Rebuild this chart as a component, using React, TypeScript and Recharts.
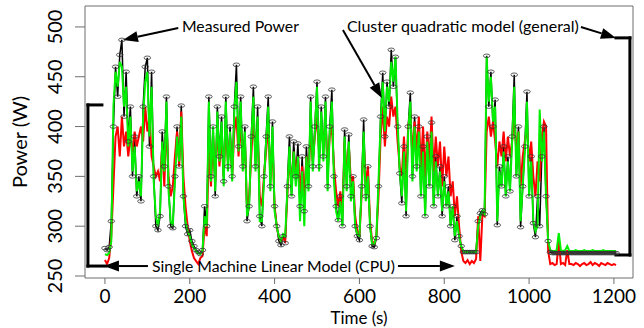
import React from "react";
import { ComposedChart, Line, XAxis, YAxis, ReferenceLine, ReferenceDot, ReferenceArea } from "recharts";

// one sample every 5 s, t = 0 .. 1205
const STEP = 5;

const measured = [
  278, 276, 279, 305, 400, 460, 430, 472, 487, 410, 455, 385, 420, 350, 390, 330, 350, 325, 420, 460,
  469, 380, 455, 350, 300, 296, 310, 395, 360, 430, 340, 300, 298, 350, 400, 360, 421, 330, 300, 292,
  296, 285, 280, 276, 274, 272, 276, 320, 300, 430, 350, 400, 330, 420, 370, 410, 345, 430, 360, 400,
  350, 420, 462, 380, 430, 360, 400, 305, 320, 390, 440, 360, 420, 310, 300, 350, 390, 430, 340, 405,
  320, 300, 285, 281, 290, 283, 340, 390, 330, 385, 350, 383, 320, 370, 315, 380, 340, 430, 360, 400,
  445, 360, 420, 370, 430, 340, 400, 437, 350, 320, 306, 330, 300, 397, 340, 392, 330, 350, 300, 290,
  286, 340, 407, 330, 360, 300, 280, 279, 288, 340, 410, 454, 390, 445, 420, 477, 440, 470, 400, 353,
  323, 380, 310, 400, 434, 350, 410, 360, 400, 330, 380, 310, 390, 340, 404, 320, 370, 330, 360, 310,
  350, 320, 340, 300, 320, 286, 310, 290, 280, 274, 274, 274, 274, 274, 274, 274, 305, 313, 316, 312,
  471, 420, 455, 400, 427, 301, 360, 340, 380, 330, 370, 335, 390, 452, 350, 400, 299, 340, 380, 435,
  330, 370, 303, 289, 330, 300, 370, 400, 330, 285, 274, 273, 273, 273, 273, 273, 273, 273, 273, 273,
  273, 273, 273, 273, 273, 273, 273, 273, 273, 273, 273, 273, 273, 273, 273, 273, 273, 273, 273, 273,
  273, 273,
];

const singleLinear = [
  266, 262, 268, 290, 340, 390, 400, 370, 410, 380, 395, 370, 390, 375, 395, 380, 390, 400, 385, 420,
  395, 410, 370, 360, 350, 355, 345, 380, 340, 405, 350, 330, 340, 370, 395, 360, 415, 350, 320, 300,
  285, 275, 268, 265, 262, 268, 270, 300, 290, 380, 340, 390, 345, 400, 360, 390, 350, 400, 365, 390,
  350, 395, 410, 370, 405, 360, 385, 320, 330, 370, 410, 370, 395, 330, 320, 350, 375, 400, 350, 380,
  320, 300, 290, 285, 288, 285, 330, 370, 340, 375, 350, 370, 335, 360, 330, 370, 350, 395, 365, 390,
  410, 375, 400, 380, 405, 360, 390, 400, 360, 335, 320, 335, 315, 385, 350, 380, 345, 350, 310, 295,
  290, 330, 385, 340, 360, 305, 285, 282, 290, 330, 390, 420, 380, 410, 400, 430, 410, 420, 385, 360,
  350, 390, 345, 400, 415, 370, 405, 375, 410, 360, 400, 350, 395, 365, 410, 355, 390, 360, 385, 340,
  380, 350, 370, 330, 345, 310, 330, 300, 275, 265, 263, 266, 262, 265, 263, 267, 310, 265, 312, 310,
  395, 410, 390, 405, 385, 360, 385, 370, 395, 365, 390, 370, 385, 410, 375, 395, 340, 370, 385, 400,
  365, 385, 350, 330, 365, 345, 390, 405, 400, 275, 262, 263, 261, 262, 286, 262, 263, 261, 276, 262,
  262, 261, 263, 262, 260, 262, 263, 261, 262, 264, 261, 263, 262, 260, 263, 262, 261, 263, 262, 261,
  262, 261,
];

const clusterQuad = [
  272, 271, 273, 285, 420, 455, 440, 465, 460, 420, 440, 380, 410, 355, 380, 335, 345, 330, 410, 445,
  455, 390, 440, 345, 310, 300, 315, 385, 355, 425, 335, 305, 300, 345, 390, 365, 410, 330, 305, 295,
  290, 282, 278, 275, 273, 272, 275, 310, 300, 425, 345, 400, 335, 415, 365, 405, 340, 425, 355, 395,
  345, 415, 445, 375, 425, 355, 395, 310, 320, 385, 430, 355, 410, 305, 305, 345, 385, 420, 335, 400,
  315, 300, 290, 285, 292, 290, 335, 380, 330, 375, 340, 370, 305, 355, 300, 370, 335, 425, 355, 395,
  440, 355, 415, 365, 425, 335, 395, 425, 345, 315, 305, 325, 300, 390, 335, 385, 325, 345, 300, 292,
  290, 335, 395, 325, 350, 300, 282, 282, 290, 345, 405, 445, 395, 440, 425, 465, 445, 470, 405, 355,
  330, 375, 315, 395, 425, 345, 400, 355, 395, 330, 375, 310, 385, 340, 395, 320, 365, 330, 355, 315,
  345, 320, 335, 300, 320, 290, 305, 290, 280, 275, 274, 274, 275, 274, 275, 274, 300, 310, 315, 312,
  470, 425, 450, 405, 420, 305, 355, 340, 375, 330, 365, 335, 385, 440, 350, 395, 305, 340, 375, 425,
  330, 365, 305, 295, 300, 417, 365, 395, 330, 285, 276, 275, 275, 276, 293, 276, 275, 276, 280, 275,
  275, 275, 276, 275, 275, 275, 276, 275, 275, 275, 276, 275, 275, 275, 275, 276, 275, 275, 275, 275,
  275, 275,
];

const xTicks = [0, 200, 400, 600, 800, 1000, 1200];
const yTicks = [250, 300, 350, 400, 450, 500];

const data = measured.map((m, i) => ({
  t: i * STEP,
  measured: m,
  linear: singleLinear[i],
  cluster: clusterQuad[i],
}));

// annotation texts, in data units (t, watts), with the width they occupy in px
const notes = [
  { text: "Measured Power", t: 181.5, w: 494.7, width: 117 },
  { text: "Cluster quadratic model (general)", t: 570.5, w: 494.7, width: 232 },
  { text: "Single Machine Linear Model (CPU)", t: 110.8, w: 254.0, width: 243 },
];

const arrows = [
  { from: [172.9, 499.0], to: [42.4, 487.0] },
  { from: [561.1, 497.0], to: [653.0, 428.7] },
  { from: [1122.2, 500.0], to: [1204.7, 489.0] },
  { from: [101.4, 260.0], to: [-2.4, 260.0] },
  { from: [690.8, 260.0], to: [825.1, 260.0] },
];

const brackets = [
  [[-7.1, 421.7], [-40.1, 421.7], [-40.1, 260.0], [2.4, 260.0]],
  [[1204.7, 489.0], [1237.7, 489.0], [1237.7, 271.1], [1204.7, 271.1]],
];

const FONT = "Lato, 'Open Sans', sans-serif";
const AXIS_GREY = "#6e6e6e";

const Ring = (props: any) => {
  const { cx, cy, index } = props;
  if (cx == null || cy == null) return <g key={index} />;
  return <ellipse key={index} cx={cx} cy={cy} rx={3.3} ry={1.8} fill="none" stroke="#333" strokeWidth={0.8} />;
};

const ArrowShape = (props: any) => {
  const { x1, y1, x2, y2 } = props;
  const dx = x2 - x1;
  const dy = y2 - y1;
  const len = Math.hypot(dx, dy) || 1;
  const ux = dx / len;
  const uy = dy / len;
  const L = 15;
  const H = 5.5;
  const bx = x2 - ux * L;
  const by = y2 - uy * L;
  const pts = `${x2},${y2} ${bx - uy * H},${by + ux * H} ${bx + uy * H},${by - ux * H}`;
  return (
    <g>
      <line x1={x1} y1={y1} x2={bx} y2={by} stroke="#000" strokeWidth={2} />
      <polygon points={pts} fill="#000" />
    </g>
  );
};

const BracketShape = (props: any) => (
  <line x1={props.x1} y1={props.y1} x2={props.x2} y2={props.y2} stroke="#000" strokeWidth={3} strokeLinecap="square" />
);

const XTick = ({ x, y, payload }: any) => (
  <text x={x} y={y} dy={17} textAnchor="middle" fontFamily={FONT} fontSize={19} fill="#000">
    {payload.value}
  </text>
);

const YTick = ({ x, y, payload }: any) => (
  <text x={x} y={y} transform={`rotate(-90, ${x}, ${y})`} textAnchor="middle" fontFamily={FONT} fontSize={20} fill="#000">
    {payload.value}
  </text>
);

export default function App() {
  return (
    <div style={{ position: "absolute", left: 0, top: 0, width: 644, height: 328, background: "#fff" }}>
      <ComposedChart width={644} height={328} data={data} margin={{ top: 6, right: 11, bottom: 0, left: 0 }}>
        <XAxis
          dataKey="t"
          type="number"
          domain={[-47, 1245]}
          ticks={xTicks}
          allowDataOverflow
          height={50}
          axisLine={false}
          tickSize={6}
          tickMargin={2}
          tickLine={{ stroke: AXIS_GREY }}
          tick={<XTick />}
          interval={0}
          label={{
            content: () => (
              <text x={359} y={324} textAnchor="middle" fontFamily={FONT} fontSize={17} fill="#000">
                Time (s)
              </text>
            ),
          }}
        />
        <YAxis
          type="number"
          domain={[248, 521]}
          ticks={yTicks}
          allowDataOverflow
          width={85}
          axisLine={false}
          tickSize={10}
          tickMargin={13}
          tickLine={{ stroke: AXIS_GREY }}
          tick={<YTick />}
          interval={0}
          label={{
            content: () => (
              <text x={27} y={142} transform="rotate(-90, 27, 142)" textAnchor="middle" fontFamily={FONT} fontSize={20} fill="#000">
                Power (W)
              </text>
            ),
          }}
        />
        <Line dataKey="measured" stroke="#000" strokeWidth={1.5} dot={Ring} activeDot={false} isAnimationActive={false} />
        <Line dataKey="linear" stroke="#ff0000" strokeWidth={2} dot={false} activeDot={false} isAnimationActive={false} />
        <Line dataKey="cluster" stroke="#00ee00" strokeWidth={2} dot={false} activeDot={false} isAnimationActive={false} />
        <ReferenceArea x1={-47} x2={1245} y1={248} y2={521} fill="none" stroke={AXIS_GREY} strokeWidth={1} ifOverflow="visible" />
        {brackets.map((b, bi) =>
          b.slice(1).map((p, i) => (
            <ReferenceLine
              key={`b${bi}-${i}`}
              segment={[{ x: b[i][0], y: b[i][1] }, { x: p[0], y: p[1] }]}
              ifOverflow="visible"
              shape={BracketShape}
            />
          ))
        )}
        {arrows.map((a, i) => (
          <ReferenceLine
            key={`a${i}`}
            segment={[{ x: a.from[0], y: a.from[1] }, { x: a.to[0], y: a.to[1] }]}
            ifOverflow="visible"
            shape={ArrowShape}
          />
        ))}
        {notes.map((n) => (
          <ReferenceDot
            key={n.text}
            x={n.t}
            y={n.w}
            ifOverflow="visible"
            shape={(p: any) => (
              <text x={p.cx} y={p.cy} textLength={n.width} lengthAdjust="spacingAndGlyphs" fontFamily={FONT} fontSize={16} fill="#000">
                {n.text}
              </text>
            )}
          />
        ))}
      </ComposedChart>
    </div>
  );
}
